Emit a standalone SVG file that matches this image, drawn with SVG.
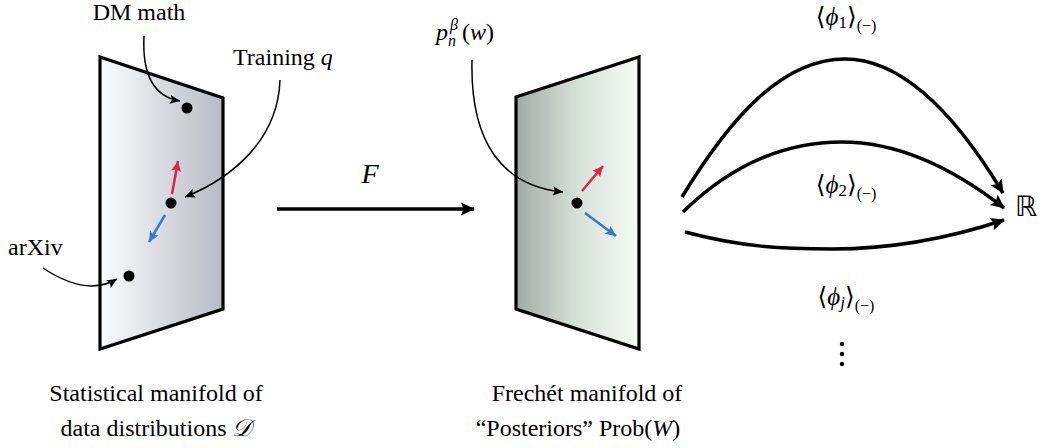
<svg xmlns="http://www.w3.org/2000/svg" width="1042" height="448" viewBox="0 0 1042 448" font-family="'Liberation Serif', 'DejaVu Serif', serif">
  <defs>
    <linearGradient id="gL" x1="0" y1="0" x2="1" y2="0">
      <stop offset="0" stop-color="#fbfcfe"/>
      <stop offset="1" stop-color="#b8bbc4"/>
    </linearGradient>
    <linearGradient id="gR" x1="0" y1="0" x2="1" y2="0">
      <stop offset="0" stop-color="#a2a9a7"/>
      <stop offset="0.5" stop-color="#d6e2d8"/>
      <stop offset="1" stop-color="#f6fbf5"/>
    </linearGradient>
    <marker id="big" markerUnits="userSpaceOnUse" markerWidth="16" markerHeight="16" viewBox="0 0 16 16" refX="14" refY="8" orient="auto">
      <path d="M1,1.5 L15,8 L1,14.5 L3.5,8 Z" fill="#000"/>
    </marker>
    <marker id="thin" markerUnits="userSpaceOnUse" markerWidth="12" markerHeight="12" viewBox="0 0 12 12" refX="11" refY="6" orient="auto">
      <path d="M1,1.5 L11,6 L1,10.5 L3,6 Z" fill="#000"/>
    </marker>
    <marker id="red" markerUnits="userSpaceOnUse" markerWidth="12" markerHeight="12" viewBox="0 0 12 12" refX="11" refY="6" orient="auto">
      <path d="M0.5,1 L11,6 L0.5,11 L2.5,6 Z" fill="#e0254a"/>
    </marker>
    <marker id="blue" markerUnits="userSpaceOnUse" markerWidth="12" markerHeight="12" viewBox="0 0 12 12" refX="11" refY="6" orient="auto">
      <path d="M0.5,1 L11,6 L0.5,11 L2.5,6 Z" fill="#3a76d6"/>
    </marker>
  </defs>
  <style>
    .lbl { font-size: 24px; }
    .it { font-style: italic; }
    .panel { stroke: #000; stroke-width: 3.2; stroke-linejoin: miter; }
    .dot { fill: #000; }
    .thick { fill: none; stroke: #000; stroke-width: 3.5; }
    .thin { fill: none; stroke: #000; stroke-width: 1.5; }
    .redv { stroke: #e0254a; stroke-width: 2.5; fill: none; }
    .bluev { stroke: #3a76d6; stroke-width: 2.5; fill: none; }
  </style>

  <g id="manifold-data">
    <polygon class="panel" points="100,57 223,98 223,309 100,349" fill="url(#gL)"/>
    <circle class="dot" cx="187" cy="108" r="5.5"/>
    <circle class="dot" cx="171" cy="203" r="5.5"/>
    <circle class="dot" cx="129" cy="276" r="5.5"/>
    <line class="redv" x1="172" y1="194" x2="178" y2="161" marker-end="url(#red)"/>
    <line class="bluev" x1="165" y1="215" x2="149" y2="242" marker-end="url(#blue)"/>
    <text class="lbl" x="156" y="401" text-anchor="middle">Statistical manifold of</text>
    <text class="lbl" x="156" y="436" text-anchor="middle">data distributions <tspan font-family="'DejaVu Serif', serif" class="it">𝒟</tspan></text>
  </g>

  <g id="manifold-posteriors">
    <polygon class="panel" points="516,97 639,57 639,349 516,309" fill="url(#gR)"/>
    <circle class="dot" cx="577" cy="203" r="5.5"/>
    <line class="redv" x1="582" y1="191" x2="603" y2="166" marker-end="url(#red)"/>
    <line class="bluev" x1="585" y1="213" x2="616" y2="236" marker-end="url(#blue)"/>
    <text class="lbl" x="587" y="401" text-anchor="middle">Frechét manifold of</text>
    <text class="lbl" x="578" y="436" text-anchor="middle">“Posteriors” Prob(<tspan class="it">W</tspan>)</text>
  </g>

  <g id="label-dm">
    <text class="lbl" x="139" y="20" text-anchor="middle">DM math</text>
  </g>
  <g id="label-training">
    <text class="lbl" x="233" y="65">Training <tspan class="it">q</tspan></text>
  </g>
  <g id="label-arxiv">
    <text class="lbl" x="8" y="255">arXiv</text>
  </g>
  <g id="label-pnb">
    <text class="lbl it" x="436" y="40">p</text>
    <text class="it" x="448" y="46" font-size="16">n</text>
    <text class="it" x="450" y="30" font-size="16">β</text>
    <text class="lbl" x="462" y="40">(<tspan class="it">w</tspan>)</text>
  </g>

  <g id="label-F">
    <text class="it" x="370" y="183" font-size="28" text-anchor="middle">F</text>
  </g>

  <g id="reals">
    <text x="1015" y="216" font-size="28" font-family="'DejaVu Sans', sans-serif">ℝ</text>
  </g>

  <g id="phi-labels">
    <text x="846" y="25" font-size="25" text-anchor="middle">⟨<tspan class="it">ϕ</tspan><tspan font-size="17" dy="3">1</tspan><tspan dy="-3">⟩</tspan><tspan font-size="16" dy="6">(−)</tspan></text>
    <text x="846" y="193" font-size="25" text-anchor="middle">⟨<tspan class="it">ϕ</tspan><tspan font-size="17" dy="3">2</tspan><tspan dy="-3">⟩</tspan><tspan font-size="16" dy="6">(−)</tspan></text>
    <text x="846" y="305" font-size="25" text-anchor="middle">⟨<tspan class="it">ϕ</tspan><tspan class="it" font-size="17" dy="3">j</tspan><tspan dy="-3">⟩</tspan><tspan font-size="16" dy="6">(−)</tspan></text>
    <circle cx="842" cy="344" r="2.2"/>
    <circle cx="842" cy="354" r="2.2"/>
    <circle cx="842" cy="364" r="2.2"/>
  </g>

  <g id="connectors">
    <path class="thin" d="M144,36 C142,76 155,97 180,101" marker-end="url(#thin)"/>
    <path class="thin" d="M280,80 C278,140 232,178 185,197" marker-end="url(#thin)"/>
    <path class="thin" d="M43,268 C70,286 95,292 117,279" marker-end="url(#thin)"/>
    <path class="thin" d="M472,60 C470,142 502,186 563,192" marker-end="url(#thin)"/>
    <line class="thick" x1="277" y1="209" x2="474" y2="209" stroke-width="3" marker-end="url(#big)"/>
    <path class="thick" d="M682,197 C730,118 782,59 845,59 C908,59 962,125 1003,193" marker-end="url(#big)"/>
    <path class="thick" d="M683,212 C730,166 782,142 842,142 C902,142 958,172 1004,208" marker-end="url(#big)"/>
    <path class="thick" d="M685,232 C742,247 782,249 832,249 C892,249 950,238 1004,220" marker-end="url(#big)"/>
  </g>
</svg>
